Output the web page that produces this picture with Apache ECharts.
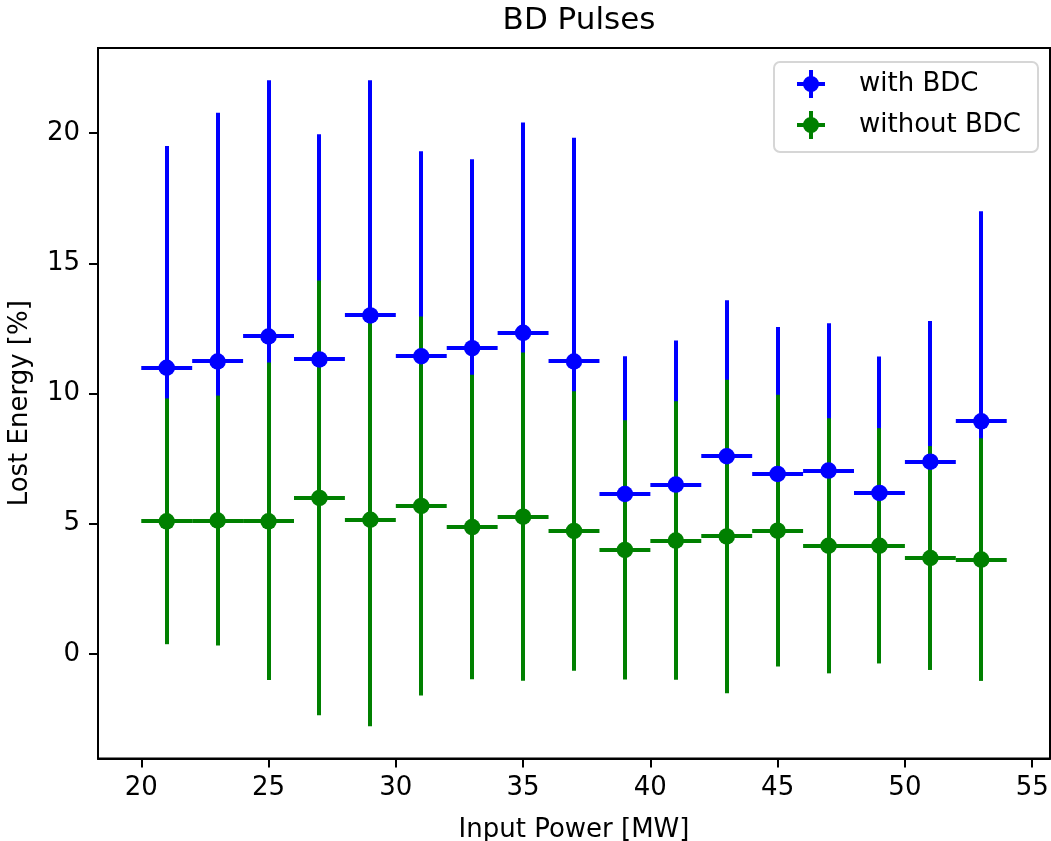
<!DOCTYPE html>
<html>
<head>
<meta charset="utf-8">
<script src="https://cdn.jsdelivr.net/npm/echarts@6/dist/echarts.min.js"></script>
<style>html,body{margin:0;padding:0;background:#fff}#chart{width:1051px;height:841px}</style>
</head>
<body>
<div id="chart"></div>
<script>
// ---- data ----
const inputPower = [21, 23, 25, 27, 29, 31, 33, 35, 37, 39, 41, 43, 45, 47, 49, 51, 53];
const powerErr   = [1, 1, 1, 1, 1, 1, 1, 1, 1, 1, 1, 1, 1, 1, 1, 1, 1];
const withBDC       = [10.99, 11.23, 12.19, 11.31, 13.00, 11.43, 11.74, 12.33, 11.23, 6.14, 6.50, 7.59, 6.91, 7.04, 6.18, 7.38, 8.93];
const withBDCErr    = [8.52, 9.55, 9.84, 8.65, 9.03, 7.87, 7.26, 8.08, 8.59, 5.29, 5.54, 5.99, 5.64, 5.66, 5.24, 5.40, 8.07];
const withoutBDC    = [5.09, 5.12, 5.09, 5.99, 5.15, 5.68, 4.87, 5.27, 4.72, 3.99, 4.35, 4.51, 4.73, 4.15, 4.15, 3.68, 3.62];
const withoutBDCErr = [4.72, 4.80, 6.10, 8.35, 7.93, 7.28, 5.85, 6.30, 5.37, 4.98, 5.35, 6.02, 5.22, 4.90, 4.52, 4.30, 4.66];
const xTicks = [20, 25, 30, 35, 40, 45, 50, 55];
const yTicks = [0, 5, 10, 15, 20];
const seriesNames = ['with BDC', 'without BDC'];
const titleText = 'BD Pulses';
const xName = 'Input Power [MW]';
const yName = 'Lost Energy [%]';

// ---- build ----
const FONT = 'DejaVu Sans';
const BLUE = '#0000ff', GREEN = '#008000';

function rows(v, e) { return inputPower.map((x, i) => [x, v[i], e[i], powerErr[i]]); }
const blueRows = rows(withBDC, withBDCErr);
const greenRows = rows(withoutBDC, withoutBDCErr);

// matplotlib-like auto limits with 5% margins
const xLo = Math.min(...inputPower.map((x, i) => x - powerErr[i]));
const xHi = Math.max(...inputPower.map((x, i) => x + powerErr[i]));
const allLo = blueRows.concat(greenRows).map(r => r[1] - r[2]);
const allHi = blueRows.concat(greenRows).map(r => r[1] + r[2]);
const yLo = Math.min(...allLo), yHi = Math.max(...allHi);
const xPad = 0.05 * (xHi - xLo), yPad = 0.05 * (yHi - yLo);

// pixel snapping like matplotlib's Agg snapping (4px lines on whole pixels)
const snap = v => Math.round(v);

function errRender(color) {
  return function (params, api) {
    const x = api.value(0), y = api.value(1), ye = api.value(2), xe = api.value(3);
    const t = api.coord([x, y + ye]), b = api.coord([x, y - ye]);
    const l = api.coord([x - xe, y]), r = api.coord([x + xe, y]);
    const style = { stroke: color, lineWidth: 4, fill: null, lineCap: 'butt' };
    const cx = snap(t[0]), cy = snap(l[1]);
    return {
      type: 'group',
      children: [
        { type: 'line', shape: { x1: l[0], y1: cy, x2: r[0], y2: cy }, style: style },
        { type: 'line', shape: { x1: cx, y1: t[1], x2: cx, y2: b[1] }, style: style }
      ]
    };
  };
}

const ICON = 'path://M0,12L28,12L28,16L0,16Z M12,0L16,0L16,28L12,28Z M14,6A8,8,0,1,1,13.99,6Z';

const chart = echarts.init(document.getElementById('chart'), null, { renderer: 'canvas' });
chart.setOption({
  animation: false,
  backgroundColor: '#fff',
  textStyle: { fontFamily: FONT },
  title: {
    text: titleText,
    left: 574, top: 0, textAlign: 'center',
    textStyle: { fontFamily: FONT, fontSize: 31, fontWeight: 'normal', color: '#000' }
  },
  grid: { left: 98, right: 1, top: 48, bottom: 82.5, show: true, borderColor: '#000', borderWidth: 2,
          backgroundColor: 'transparent', containLabel: false, outerBoundsMode: 'none' },
  graphic: [{
    type: 'rect', z: 10, silent: true,
    shape: { x: 774, y: 62, width: 264, height: 90, r: 6 },
    style: { fill: 'rgba(255,255,255,0.8)', stroke: '#d6d6d6', lineWidth: 2 }
  }],
  legend: {
    orient: 'vertical', left: 797, top: 70, z: 11,
    padding: 0,
    itemWidth: 86, itemHeight: 28, itemGap: 13,
    textStyle: { fontFamily: FONT, fontSize: 26, color: '#000', lineHeight: 28 },
    data: [
      { name: seriesNames[0], icon: ICON, itemStyle: { color: BLUE } },
      { name: seriesNames[1], icon: ICON, itemStyle: { color: GREEN } }
    ],
    selectedMode: false
  },
  xAxis: {
    type: 'value', min: xLo - xPad, max: xHi + xPad,
    name: xName, nameLocation: 'middle', nameGap: 59,
    nameTextStyle: { fontFamily: FONT, fontSize: 26, color: '#000' },
    axisLine: { show: true, onZero: false, lineStyle: { color: '#000', width: 2 } },
    axisTick: { show: true, length: 9, lineStyle: { color: '#000', width: 2 }, customValues: xTicks },
    axisLabel: { fontFamily: FONT, fontSize: 26, color: '#000', margin: 17, customValues: xTicks },
    splitLine: { show: false }
  },
  yAxis: {
    type: 'value', min: yLo - yPad, max: yHi + yPad,
    name: yName, nameLocation: 'middle', nameGap: 65, nameRotate: 90,
    nameTextStyle: { fontFamily: FONT, fontSize: 26, color: '#000' },
    axisLine: { show: true, onZero: false, lineStyle: { color: '#000', width: 2 } },
    axisTick: { show: true, length: 9, lineStyle: { color: '#000', width: 2 }, customValues: yTicks },
    axisLabel: { fontFamily: FONT, fontSize: 26, color: '#000', margin: 18, customValues: yTicks },
    splitLine: { show: false }
  },
  series: [
    { name: 'with BDC err', type: 'custom', renderItem: errRender(BLUE), data: blueRows, encode: { x: 0, y: 1 }, z: 2, silent: true },
    { name: 'without BDC err', type: 'custom', renderItem: errRender(GREEN), data: greenRows, encode: { x: 0, y: 1 }, z: 3, silent: true },
    { name: seriesNames[0], type: 'scatter', data: blueRows.map(r => [r[0], r[1]]), symbol: 'circle', symbolSize: 16.5, itemStyle: { color: BLUE, opacity: 1 }, z: 4 },
    { name: seriesNames[1], type: 'scatter', data: greenRows.map(r => [r[0], r[1]]), symbol: 'circle', symbolSize: 16.5, itemStyle: { color: GREEN, opacity: 1 }, z: 5 }
  ]
});
</script>
</body>
</html>
